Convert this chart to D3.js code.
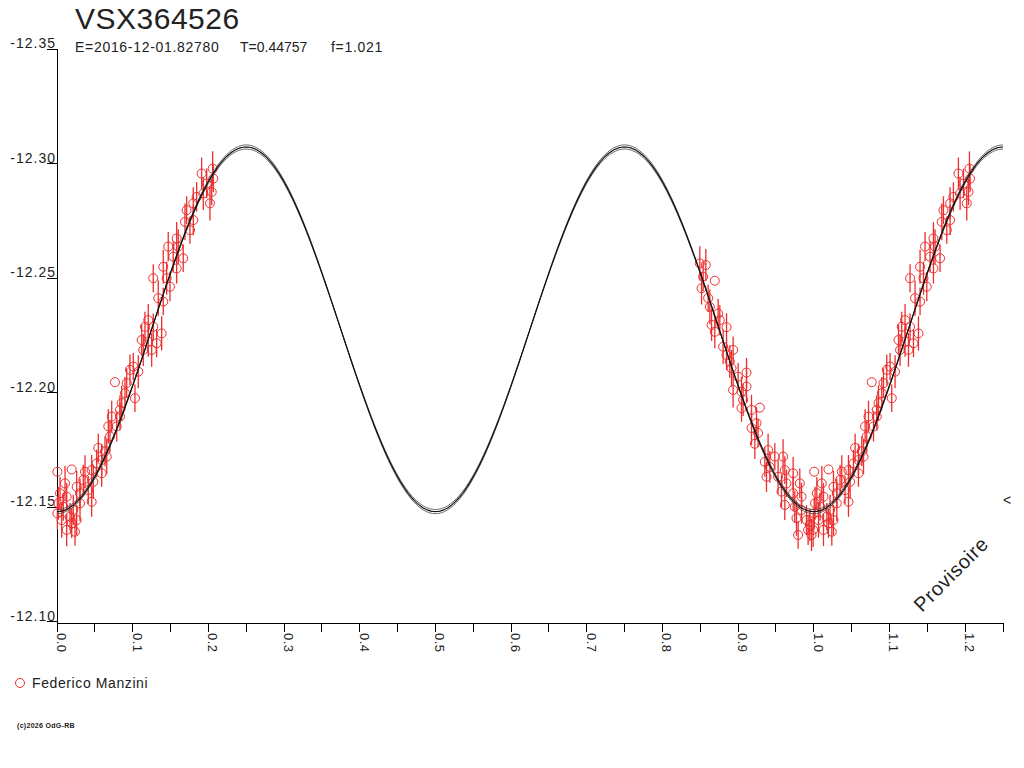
<!DOCTYPE html>
<html>
<head>
<meta charset="utf-8">
<script src="https://cdn.jsdelivr.net/npm/d3@7"></script>
<style>
  html, body { margin: 0; padding: 0; background: #fff; }
  svg { display: block; }
  text { font-family: "Liberation Sans", Arial, sans-serif; fill: #222; }
</style>
</head>
<body>
<svg id="chart" width="1024" height="768"></svg>
<script>
// ---------- data ----------
const title = "VSX364526";
const epochLabel = "E=2016-12-01.82780";
const periodLabel = "T=0.44757";
const freqLabel = "f=1.021";
const observer = "Federico Manzini";
const credit = "(c)2026 OdG-RB";
const watermark = "Provisoire";

const yTicks = [-12.35, -12.30, -12.25, -12.20, -12.15, -12.10];
const xTicksMajor = [0.0, 0.1, 0.2, 0.3, 0.4, 0.5, 0.6, 0.7, 0.8, 0.9, 1.0, 1.1, 1.2];
const xTicksMinor = [0.05, 0.15, 0.25, 0.35, 0.45, 0.55, 0.65, 0.75, 0.85, 0.95, 1.05, 1.15, 1.25];

// observations: phase, magnitude, error
const phases = [
  0.1911,0.2057,0.2065,0.1978,0.1933,0.2044,0.2021,0.1845,0.1801,0.1713,
  0.1691,0.1801,0.1757,0.1581,0.1602,0.1470,0.1668,0.1536,0.1404,0.1581,
  0.1272,0.1449,0.1493,0.1338,0.1404,0.1206,0.1162,0.1272,0.1383,0.1119,
  0.1206,0.1317,0.1140,0.1251,0.1008,0.0964,0.1074,0.0766,0.0921,0.0898,
  0.1030,0.0855,0.0832,0.0723,0.0832,0.0789,0.0678,0.0700,0.0546,0.0634,
  0.0590,0.0657,0.0524,0.0458,0.0370,0.0590,0.0194,0.0005,0.0480,0.0347,
  0.0260,0.0413,0.0304,0.0106,0.0040,0.0128,0.0458,0.0017,0.0304,0.0083,
  0.0215,0.0005,0.0172,0.0062,0.0260,0.0128,0.0238,0.0194,
  -0.1506,-0.1427,-0.1308,-0.1462,-0.1483,-0.1396,-0.1374,-0.1264,-0.1351,-0.1153,
  -0.1242,-0.1308,-0.1198,-0.1066,-0.1153,-0.1110,-0.1087,-0.0889,-0.1000,-0.0889,
  -0.1066,-0.0955,-0.0934,-0.0713,-0.0955,-0.0823,-0.0757,-0.0823,-0.0736,-0.0779,
  -0.0604,-0.0515,-0.0406,-0.0647,-0.0581,-0.0383,-0.0625,-0.0472,-0.0273,-0.0361,
  -0.0185,-0.0427,-0.0273,-0.0162,-0.0383,-0.0251,-0.0162,-0.0229,-0.0096,-0.0053,
  -0.0207,-0.0075,-0.0030,-0.0009
];
const mags = [
  -12.2956,-12.2978,-12.2934,-12.2913,-12.2869,-12.2876,-12.2826,-12.2854,-12.2826,-12.2796,
  -12.2745,-12.2753,-12.2709,-12.2673,-12.2637,-12.2637,-12.2586,-12.2593,-12.2549,-12.2542,
  -12.2499,-12.2499,-12.2462,-12.2412,-12.2397,-12.2316,-12.2287,-12.2287,-12.2258,-12.2229,
  -12.2222,-12.2215,-12.2186,-12.2186,-12.2113,-12.2099,-12.2091,-12.2045,-12.2041,-12.1997,
  -12.1975,-12.1954,-12.1924,-12.1895,-12.1895,-12.1852,-12.1852,-12.1808,-12.1758,-12.1743,
  -12.1705,-12.1720,-12.1690,-12.1661,-12.1654,-12.1647,-12.1664,-12.1654,-12.1610,-12.1618,
  -12.1588,-12.1574,-12.1560,-12.1603,-12.1560,-12.1545,-12.1523,-12.1516,-12.1516,-12.1501,
  -12.1487,-12.1472,-12.1458,-12.1443,-12.1443,-12.1400,-12.1392,-12.1429,
  -12.2564,-12.2557,-12.2488,-12.2506,-12.2455,-12.2412,-12.2374,-12.2345,-12.2295,-12.2285,
  -12.2316,-12.2265,-12.2200,-12.2186,-12.2164,-12.2135,-12.2106,-12.2087,-12.2069,-12.2026,
  -12.2011,-12.2004,-12.1968,-12.1934,-12.1932,-12.1924,-12.1866,-12.1845,-12.1823,-12.1776,
  -12.1749,-12.1720,-12.1720,-12.1697,-12.1675,-12.1661,-12.1632,-12.1632,-12.1647,-12.1603,
  -12.1603,-12.1567,-12.1560,-12.1545,-12.1509,-12.1501,-12.1487,-12.1451,-12.1443,-12.1422,
  -12.1378,-12.1400,-12.1378,-12.1400
];
const errs = [
  0.0070,0.0075,0.0060,0.0065,0.0072,0.0058,0.0075,0.0064,0.0070,0.0061,
  0.0080,0.0066,0.0059,0.0071,0.0076,0.0064,0.0060,0.0069,0.0074,0.0066,
  0.0061,0.0072,0.0064,0.0077,0.0060,0.0071,0.0066,0.0058,0.0075,0.0069,
  0.0066,0.0061,0.0070,0.0074,0.0059,0.0067,0.0072,0,0.0065,0.0071,
  0.0060,0.0076,0.0064,0.0069,0.0061,0.0066,0.0075,0.0070,0.0062,0.0065,
  0.0071,0.0077,0.0060,0.0066,0.0072,0.0059,0,0,0.0074,0.0066,
  0.0070,0.0061,0.0065,0.0076,0.0071,0.0060,0.0066,0.0072,0.0078,0.0061,
  0.0066,0.0070,0.0059,0.0077,0.0066,0.0071,0.0061,0.0064,
  0.0075,0.0070,0,0.0065,0.0071,0.0060,0.0076,0.0064,0.0070,0.0061,
  0.0066,0.0072,0.0075,0.0059,0.0066,0.0071,0.0080,0.0064,0.0060,0.0070,
  0.0076,0.0065,0.0071,0,0.0060,0.0066,0.0070,0.0074,0.0061,0.0066,
  0.0071,0.0060,0.0076,0.0065,0.0069,0.0061,0.0066,0.0075,0.0071,0.0060,
  0.0065,0.0072,0.0076,0.0061,0.0066,0.0070,0.0059,0.0077,0.0065,0.0071,
  0.0060,0.0066,0.0070,0.0075
];

// fitted light-curve model (mean, semi-amplitude, envelope, harmonic)
const fitMean = -12.2276;
const fitAmp = 0.0796;
const fitEnv = 0.0009;
const fitHarmonic = 2;

// ---------- layout ----------
const svg = d3.select("#chart");
const x = d3.scaleLinear().domain([0, 1.25]).range([57, 1003]);
const y = d3.scaleLinear().domain([-12.35, -12.10]).range([49, 621.5]);
const axisY = 623;
const red = "#ee2d2d";

// title
svg.append("text").attr("x", 75).attr("y", 28.5)
  .style("font-size", "30px").style("letter-spacing", "0.5px").text(title);
svg.append("text").attr("x", 75).attr("y", 52).style("font-size", "14px").style("letter-spacing", "0.7px").text(epochLabel);
svg.append("text").attr("x", 240).attr("y", 52).style("font-size", "14px").style("letter-spacing", "0px").text(periodLabel);
svg.append("text").attr("x", 331).attr("y", 52).style("font-size", "14px").style("letter-spacing", "0.7px").text(freqLabel);

// axes
const axes = svg.append("g").attr("stroke", "#000").attr("stroke-width", 1).attr("shape-rendering", "crispEdges");
axes.append("line").attr("x1", x(0)).attr("x2", x(0)).attr("y1", y(-12.35)).attr("y2", axisY + 9);
axes.append("line").attr("x1", x(0)).attr("x2", x(1.25)).attr("y1", axisY).attr("y2", axisY);

yTicks.forEach(v => {
  axes.append("line").attr("x1", x(0) - 10).attr("x2", x(0)).attr("y1", y(v)).attr("y2", y(v));
  svg.append("text").attr("x", x(0) - 1).attr("y", y(v) - 1)
    .attr("text-anchor", "end").style("font-size", "14px").style("letter-spacing", "1px")
    .text(v.toFixed(2));
});

xTicksMajor.concat(xTicksMinor).forEach(v => {
  axes.append("line").attr("x1", x(v)).attr("x2", x(v)).attr("y1", axisY).attr("y2", axisY + 9);
});
xTicksMajor.forEach(v => {
  svg.append("text")
    .attr("transform", `translate(${x(v)},${axisY + 10}) rotate(90)`)
    .style("font-size", "13px").style("letter-spacing", "0.5px")
    .text(v.toFixed(1));
});

// observations (folded, repeated up to phase 1.25)
const obs = [];
const n = Math.min(phases.length, mags.length, errs.length);
for (let i = 0; i < n; i++) {
  let p = phases[i] < 0 ? phases[i] + 1 : phases[i];
  obs.push({p: p, m: mags[i], e: errs[i]});
  if (p + 1 <= 1.25) obs.push({p: p + 1, m: mags[i], e: errs[i]});
}
const gObs = svg.append("g");
gObs.selectAll("line.err").data(obs.filter(d => d.e > 0)).enter().append("line")
  .attr("x1", d => x(d.p)).attr("x2", d => x(d.p))
  .attr("y1", d => y(d.m - d.e)).attr("y2", d => y(d.m + d.e))
  .attr("stroke", red).attr("stroke-width", 1.3);
gObs.selectAll("circle").data(obs).enter().append("circle")
  .attr("cx", d => x(d.p)).attr("cy", d => y(d.m)).attr("r", 4.5)
  .attr("fill", "none").attr("stroke", red).attr("stroke-width", 1);

// fitted curve with envelope
const samplePhases = d3.range(0, 1.2501, 0.002);
[fitAmp - fitEnv, fitAmp + fitEnv, fitAmp].forEach((a, k) => {
  const line = d3.line()
    .x(p => x(p))
    .y(p => y(fitMean + a * Math.cos(2 * Math.PI * fitHarmonic * p)));
  svg.append("path").datum(samplePhases).attr("d", line)
    .attr("fill", "none").attr("stroke", k === 2 ? "#111" : "#444")
    .attr("stroke-width", k === 2 ? 1.2 : 0.8);
});

// legend
svg.append("circle").attr("cx", 20).attr("cy", 683).attr("r", 4.5)
  .attr("fill", "none").attr("stroke", red).attr("stroke-width", 1);
svg.append("text").attr("x", 32).attr("y", 688).style("font-size", "14px").style("letter-spacing", "0.6px").text(observer);

// credit
svg.append("text").attr("x", 17).attr("y", 728).style("font-size", "7px").style("font-weight", "bold")
  .style("letter-spacing", "0.3px").text(credit);

// watermark + marker
svg.append("text").attr("transform", "translate(922,613) rotate(-45)")
  .style("font-size", "20px").style("letter-spacing", "0.7px").text(watermark);
svg.append("text").attr("x", 1003).attr("y", 505).style("font-size", "14px").text("<");
</script>
</body>
</html>
